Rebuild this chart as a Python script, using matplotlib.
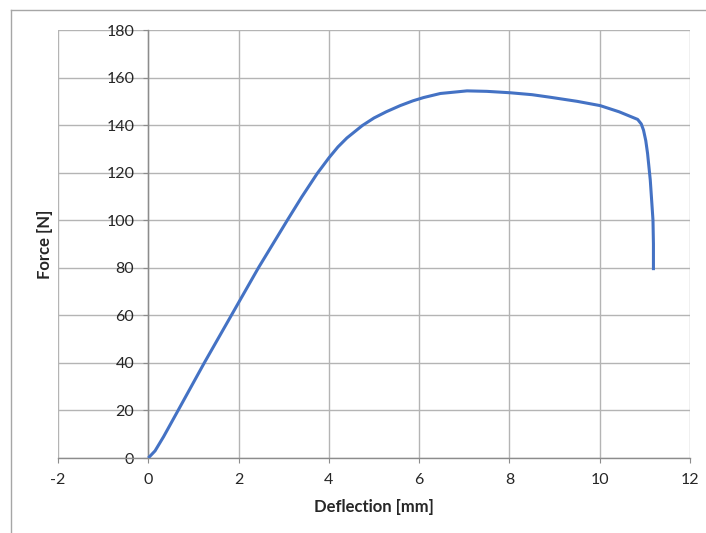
import matplotlib
matplotlib.use("Agg")
import matplotlib.pyplot as plt
from matplotlib.lines import Line2D

deflection = [0.0, 0.15, 0.34, 0.66, 1.24, 1.84, 2.44, 2.76, 3.08, 3.4, 3.74, 4.0,
              4.2, 4.4, 4.74, 5.0, 5.27, 5.58, 5.86, 6.1, 6.47, 7.06, 7.5, 8.02,
              8.5, 8.91, 9.5, 10.01, 10.43, 10.84, 10.92, 10.97, 11.02, 11.06, 11.12,
              11.16, 11.18, 11.19, 11.19]
force = [0.0, 3.0, 9.0, 20.0, 40.0, 60.0, 80.0, 90.0, 100.0, 109.8, 119.6, 126.2,
         130.8, 134.6, 139.8, 143.0, 145.6, 148.2, 150.2, 151.6, 153.3, 154.4, 154.2, 153.6,
         152.8, 151.7, 150.0, 148.2, 145.6, 142.4, 140.5, 137.9, 133.5, 128.1, 116.9,
         105.7, 100.0, 90.0, 79.0]

xticks = [-2, 0, 2, 4, 6, 8, 10, 12]
yticks = [0, 20, 40, 60, 80, 100, 120, 140, 160, 180]

plt.rcParams['font.family'] = ['Lato', 'DejaVu Sans']
plt.rcParams['axes.unicode_minus'] = False

W, H = 706, 533
fig = plt.figure(figsize=(W / 100, H / 100), dpi=100)
ax = fig.add_axes([58 / W, 1 - 458 / H, (690 - 58) / W, (458 - 30) / H])

grid_c = '#b4b4b4'
axis_c = '#8c8c8c'

ax.plot(deflection, force, color='#4472C4', lw=2.2, solid_joinstyle='round',
        solid_capstyle='butt', zorder=3)

ax.set_xlim(-2, 12)
ax.set_ylim(0, 180)
ax.set_xticks(xticks)
ax.set_yticks(yticks)
ax.grid(True, color=grid_c, lw=1.0, zorder=0)
ax.set_axisbelow(True)

for s in ['top', 'right']:
    ax.spines[s].set_visible(False)
ax.spines['left'].set_position(('data', 0))
ax.spines['left'].set_color(axis_c)
ax.spines['bottom'].set_color(axis_c)
ax.spines['left'].set_linewidth(1.0)
ax.spines['bottom'].set_linewidth(1.0)

ax.tick_params(axis='x', direction='out', length=3.6, width=0.8, color=axis_c,
               pad=7, labelsize=11.5, labelcolor='#262626')
ax.tick_params(axis='y', direction='out', length=3.6, width=0.8, color=axis_c,
               pad=6.5, labelsize=11.5, labelcolor='#262626')

ax.set_xlabel('Deflection [mm]', fontsize=12, fontweight='bold', color='#262626', va='center')
ax.set_ylabel('Force [N]', fontsize=12, fontweight='bold', color='#262626', va='center')
ax.xaxis.set_label_coords((374 - 58) / 632, (458 - 507) / 428)
ax.yaxis.set_label_coords((45 - 58) / 632, 0.5)

# outer chart frame (left and top edges)
fig.add_artist(Line2D([11 / W, 11 / W], [0, 1 - 10 / H], color='#a6a6a6', lw=1.0,
                      transform=fig.transFigure))
fig.add_artist(Line2D([11 / W, 1], [1 - 10 / H, 1 - 10 / H], color='#a6a6a6', lw=1.0,
                      transform=fig.transFigure))

fig.savefig('out.png', dpi=100)
